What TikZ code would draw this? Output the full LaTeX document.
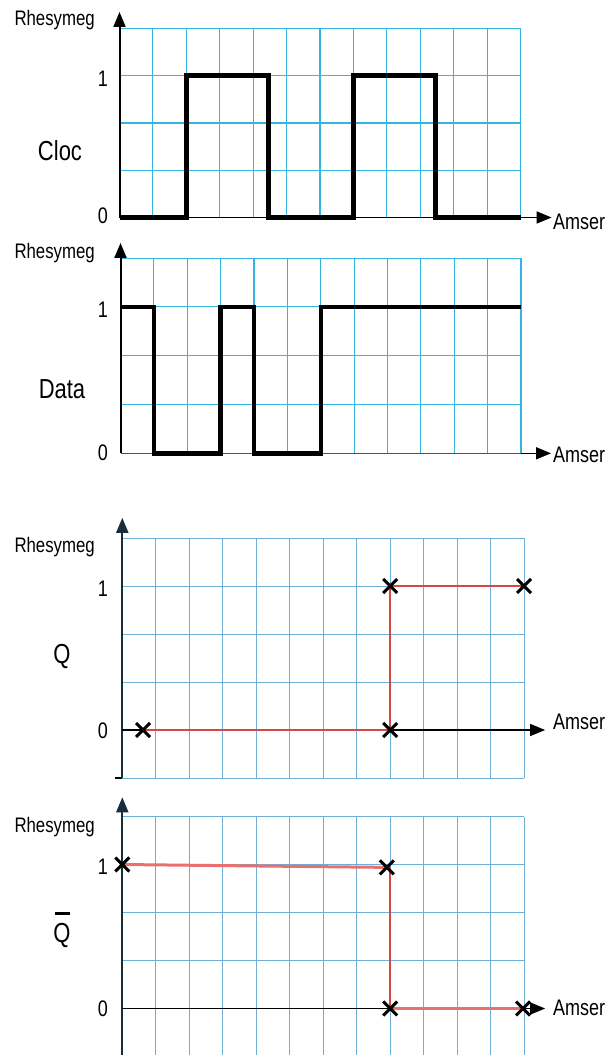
\documentclass[tikz,border=0pt]{standalone}
\usepackage{fontspec}
\setmainfont{Liberation Sans}[FakeStretch=0.8]
\usetikzlibrary{arrows.meta,shapes.misc}
\definecolor{gridA}{RGB}{52,180,226}
\definecolor{gridB}{RGB}{110,175,215}
\definecolor{axisB}{RGB}{25,45,60}
\definecolor{redA}{RGB}{214,72,72}
\definecolor{redB}{RGB}{232,112,112}
\definecolor{zgray}{RGB}{80,80,80}
\tikzset{
  gA/.style={draw=gridA,line width=1.1pt},
  gB/.style={draw=gridB,line width=1pt},
  axisarrow/.style={-{Triangle[length=15pt,width=12pt]}},
  wave/.style={line width=5pt,line join=miter},
  rhes/.style={font=\fontsize{21}{25}\selectfont,anchor=base east,inner sep=0},
  digit/.style={font=\fontsize{22.5}{27}\selectfont,anchor=base east,inner sep=0},
  side/.style={font=\fontsize{27.5}{32}\selectfont,inner sep=0},
  amser/.style={font=\fontsize{22.5}{27}\selectfont,anchor=base west,inner sep=0},
  xm/.style={draw=black,cross out,line width=3pt,minimum size=11pt,inner sep=0},
}
\begin{document}
\begin{tikzpicture}[x=1pt,y=-1pt]
\useasboundingbox (0,0) rectangle (611,1055);
\fill[white] (0,0) rectangle (611,1055);

% ---------------- Panel 1 : Cloc ----------------
\begin{scope}[shift={(119.5,217.5)},x=33.42pt,y=47.25pt]
  \foreach \i in {1,...,12} \draw[gA] (\i,0) -- (\i,4);
  \foreach \j in {0,...,4} \draw[gA] (0,\j) -- (12,\j);
  \coordinate (o1) at (0,0);
  \coordinate (yt1) at (0,4.35);
  \coordinate (xt1) at (12.93,0);
  \draw[line width=2pt,axisarrow] (o1) -- (yt1);
  \draw[line width=1.5pt,axisarrow] (o1) -- (xt1);
  \draw[wave] (0,0) -- (2,0) -- (2,3) -- (4.45,3) -- (4.45,0) -- (7,0) -- (7,3) -- (9.45,3) -- (9.45,0) -- (12,0);
\end{scope}
\node[rhes] (r1) at (95,25) {Rhesymeg};
\node[digit] (one1) at (108,86) {1};
\node[digit] (zero1) at (108,223) {0};
\node[side] (cloc) at (60,151) {Cloc};
\node[amser] (am1) at (553,229) {Amser};

% ---------------- Panel 2 : Data ----------------
\begin{scope}[shift={(120.5,453.3)},x=33.375pt,y=48.8pt]
  \foreach \i in {1,...,12} \draw[gA] (\i,0) -- (\i,4);
  \foreach \j in {1,...,4} \draw[gA] (0,\j) -- (12,\j);
  \coordinate (o2) at (0,0);
  \coordinate (e2) at (12,0);
  \coordinate (yt2) at (0,4.31);
  \coordinate (xt2) at (12.9,0);
  \draw[zgray,line width=1.5pt] (o2) -- (e2);
  \draw[line width=1.5pt,axisarrow] (e2) -- (xt2);
  \draw[line width=2pt,axisarrow] (o2) -- (yt2);
  \draw[line width=4.5pt,line join=miter] (0,3) -- (1,3) -- (1,0) -- (3,0) -- (3,3) -- (4,3) -- (4,0) -- (6,0) -- (6,3) -- (12,3);
\end{scope}
\node[rhes] (r2) at (95,258) {Rhesymeg};
\node[digit] (one2) at (108,317) {1};
\node[digit] (zero2) at (108,460) {0};
\node[side] (data) at (62,389) {Data};
\node[amser] (am2) at (553,462) {Amser};

% ---------------- Panel 3 : Q ----------------
\begin{scope}[shift={(122.3,730)},x=33.48pt,y=48pt]
  \foreach \i in {1,...,12} \draw[gB] (\i,-1) -- (\i,4);
  \foreach \j in {-1,1,2,3,4} \draw[gB] (0,\j) -- (12,\j);
  \coordinate (o3) at (0,0);
  \coordinate (b3) at (0,-1);
  \coordinate (s3) at (-0.21,-1);
  \coordinate (yt3) at (0,4.42);
  \coordinate (xt3) at (12.63,0);
  \coordinate (c31) at (0.62,0);
  \coordinate (c32) at (8,0);
  \coordinate (c33) at (8,3);
  \coordinate (c34) at (12,3);
  \draw[black,line width=1.5pt] (s3) -- (b3);
  \draw[axisB,line width=2pt,axisarrow] (b3) -- (yt3);
  \draw[black,line width=1.5pt,axisarrow] (o3) -- (xt3);
  \draw[black,line width=2.6pt] (o3) -- (c31);
  \draw[redA,line width=2pt] (c31) -- (c32) -- (c33) -- (c34);
  \node[xm] (q1) at (c31) {};
  \node[xm] (q2) at (c32) {};
  \node[xm] (q3) at (c33) {};
  \node[xm] (q4) at (c34) {};
\end{scope}
\node[rhes] (r3) at (95,552) {Rhesymeg};
\node[digit] (one3) at (108,596) {1};
\node[digit] (zero3) at (108,738) {0};
\node[side] (q) at (62,656) {Q};
\node[amser] (am3) at (553,729) {Amser};

% ---------------- Panel 4 : Q bar ----------------
\begin{scope}[shift={(122.3,1008.5)},x=33.48pt,y=48pt]
  \foreach \i in {1,...,12} \draw[gB] (\i,-1) -- (\i,4);
  \foreach \j in {1,2,3,4} \draw[gB] (0,\j) -- (12,\j);
  \coordinate (o4) at (0,0);
  \coordinate (b4) at (0,-1);
  \coordinate (yt4) at (0,4.4);
  \coordinate (xt4) at (12.63,0);
  \coordinate (c41) at (0,3);
  \coordinate (c42) at (7.9,2.94);
  \coordinate (c42b) at (8,2.94);
  \coordinate (c43) at (8,0);
  \coordinate (c44) at (11.97,0);
  \draw[axisB,line width=2pt,axisarrow] (b4) -- (yt4);
  \draw[black,line width=1.5pt,axisarrow] (o4) -- (xt4);
  \draw[redB,line width=3pt] (c41) -- (c42);
  \draw[redA,line width=1.5pt] (c42b) -- (c43);
  \draw[redB,line width=3pt] (c43) -- (c44);
  \node[xm] (p1) at (c41) {};
  \node[xm] (p2) at (c42) {};
  \node[xm] (p3) at (c43) {};
  \node[xm] (p4) at (c44) {};
\end{scope}
\node[rhes] (r4) at (95,832) {Rhesymeg};
\node[digit] (one4) at (108,874) {1};
\node[digit] (zero4) at (108,1016) {0};
\node[side,anchor=base] (qb) at (62,942) {\shortstack{\rule{15pt}{3pt}\\[5pt]Q}};
\node[amser] (am4) at (553,1015) {Amser};
\end{tikzpicture}
\end{document}
